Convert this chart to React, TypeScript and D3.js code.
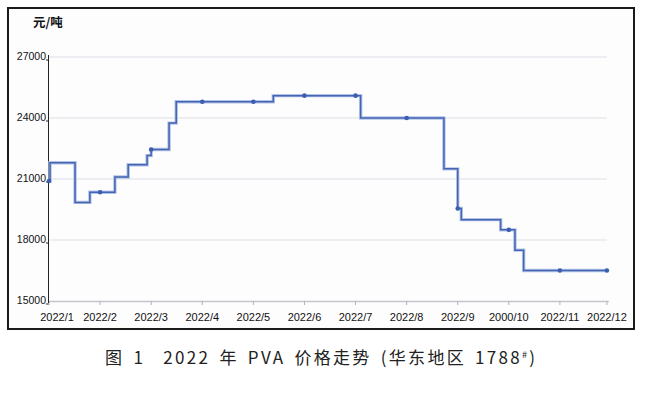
import * as d3 from 'd3';
import { useEffect, useRef } from 'react';

// month labels on the x axis (the "2000/10" typo is in the original)
const monthLabels = ['2022/1', '2022/2', '2022/3', '2022/4', '2022/5', '2022/6', '2022/7', '2022/8', '2022/9', '2000/10', '2022/11', '2022/12'];
const tickPos = [0, 1, 2, 3, 4, 5, 6, 7, 8, 9, 10, 10.92];
const yTicks = [15000, 18000, 21000, 24000, 27000];

// price steps (position in months since 2022/1, price in yuan/ton)
const stepPos = [0, 0.02, 0.51, 0.8, 1.29, 1.55, 1.92, 2.0, 2.35, 2.49, 4.39, 6.1, 7.73, 8.0, 8.07, 8.84, 9.12, 9.29, 10.92];
const stepPrice = [20900, 21800, 19850, 20350, 21100, 21700, 22150, 22450, 23750, 24800, 25100, 24000, 21500, 19550, 19000, 18500, 17500, 16500, 16500];

// monthly sample points
const markerPos = [0, 1, 2, 3, 4, 5, 6, 7, 8, 9, 10, 10.92];
const markerPrice = [20900, 20350, 22450, 24800, 24800, 25100, 25100, 24000, 19550, 18500, 16500, 16500];

export default function App() {
  const ref = useRef<SVGSVGElement>(null);

  useEffect(() => {
    const svg = d3.select(ref.current);
    svg.selectAll('*').remove();

    const x = d3.scaleLinear().domain([0, 11]).range([49, 611]);
    const y = d3.scaleLinear().domain([15000, 27000]).range([301, 57]);

    svg.append('rect').attr('width', 648).attr('height', 396).attr('fill', '#fff');

    // frame
    svg.append('rect')
      .attr('x', 8).attr('y', 8).attr('width', 626).attr('height', 321)
      .attr('fill', '#fdfdfe').attr('stroke', '#1a1a1a').attr('stroke-width', 2);

    // grid
    svg.append('g').selectAll('line')
      .data(yTicks.filter((d) => d > 15000))
      .enter()
      .append('line')
      .attr('x1', x(0)).attr('x2', x(10.92))
      .attr('y1', (d) => y(d)).attr('y2', (d) => y(d))
      .attr('stroke', '#e6e8ee').attr('stroke-width', 1.5);

    // x axis
    const xa = svg.append('g');
    xa.append('line')
      .attr('x1', x(0)).attr('x2', x(10.92) + 2)
      .attr('y1', y(15000) + 0.5).attr('y2', y(15000) + 0.5)
      .attr('stroke', '#c4c6cc').attr('stroke-width', 1.5);
    xa.selectAll('.tk')
      .data(tickPos)
      .enter()
      .append('line')
      .attr('x1', (d) => x(d)).attr('x2', (d) => x(d))
      .attr('y1', y(15000)).attr('y2', y(15000) + 4)
      .attr('stroke', '#b0b2b8');
    xa.selectAll('text')
      .data(monthLabels)
      .enter()
      .append('text')
      .attr('x', (d, i) => x(tickPos[i]) + (i === 0 ? 8 : 0))
      .attr('y', 321)
      .attr('text-anchor', 'middle')
      .attr('font-family', 'Liberation Sans, Arial, sans-serif')
      .attr('font-size', 11)
      .attr('fill', '#111')
      .text((d) => d);

    // y axis
    const ya = svg.append('g');
    ya.append('line')
      .attr('x1', 48.5).attr('x2', 48.5)
      .attr('y1', y(27000) - 2).attr('y2', y(15000) + 2)
      .attr('stroke', '#222').attr('stroke-width', 1);
    ya.selectAll('line.t')
      .data(yTicks)
      .enter()
      .append('line')
      .attr('x1', 46).attr('x2', 48.5)
      .attr('y1', (d) => y(d) + 3).attr('y2', (d) => y(d) + 3)
      .attr('stroke', '#222');
    ya.selectAll('text')
      .data(yTicks)
      .enter()
      .append('text')
      .attr('x', 46)
      .attr('y', (d) => y(d) + 3)
      .attr('text-anchor', 'end')
      .attr('font-family', 'Liberation Sans, Arial, sans-serif')
      .attr('font-size', 10.5)
      .attr('fill', '#111')
      .text((d) => d);

    svg.append('text')
      .attr('x', 33).attr('y', 27)
      .attr('font-family', 'Noto Sans CJK SC, sans-serif')
      .attr('font-size', 12.5)
      .attr('font-weight', 'bold')
      .attr('fill', '#111')
      .text('元/吨');

    // price line
    const pts = stepPos.map((p, i) => [p, stepPrice[i]] as [number, number]);
    const line = d3.line<[number, number]>()
      .x((d) => x(d[0]))
      .y((d) => y(d[1]))
      .curve(d3.curveStepAfter);
    svg.append('path')
      .attr('d', line(pts))
      .attr('fill', 'none')
      .attr('stroke', '#b3c3e6')
      .attr('stroke-width', 3.4);
    svg.append('path')
      .attr('d', line(pts))
      .attr('fill', 'none')
      .attr('stroke', '#4365b2')
      .attr('stroke-width', 1.5);

    svg.append('g').selectAll('circle')
      .data(markerPos)
      .enter()
      .append('circle')
      .attr('cx', (d) => x(d))
      .attr('cy', (d, i) => y(markerPrice[i]))
      .attr('r', 2.3)
      .attr('fill', '#3b5eae');

    // caption
    const cap = svg.append('text')
      .attr('x', 105).attr('y', 364)
      .attr('font-family', 'Noto Sans CJK SC, sans-serif')
      .attr('font-size', 17)
      .attr('letter-spacing', 2.3)
      .attr('word-spacing', 3)
      .attr('fill', '#222')
      .style('white-space', 'pre');
    cap.append('tspan').text('图 1  2022 年 PVA 价格走势 (华东地区 1788');
    cap.append('tspan').attr('font-size', 9).attr('dy', -6).text('#');
    cap.append('tspan').attr('dy', 6).text(')');
  }, []);

  return (
    <svg ref={ref} width={648} height={396} style={{ position: 'absolute', left: 0, top: 0 }} />
  );
}
